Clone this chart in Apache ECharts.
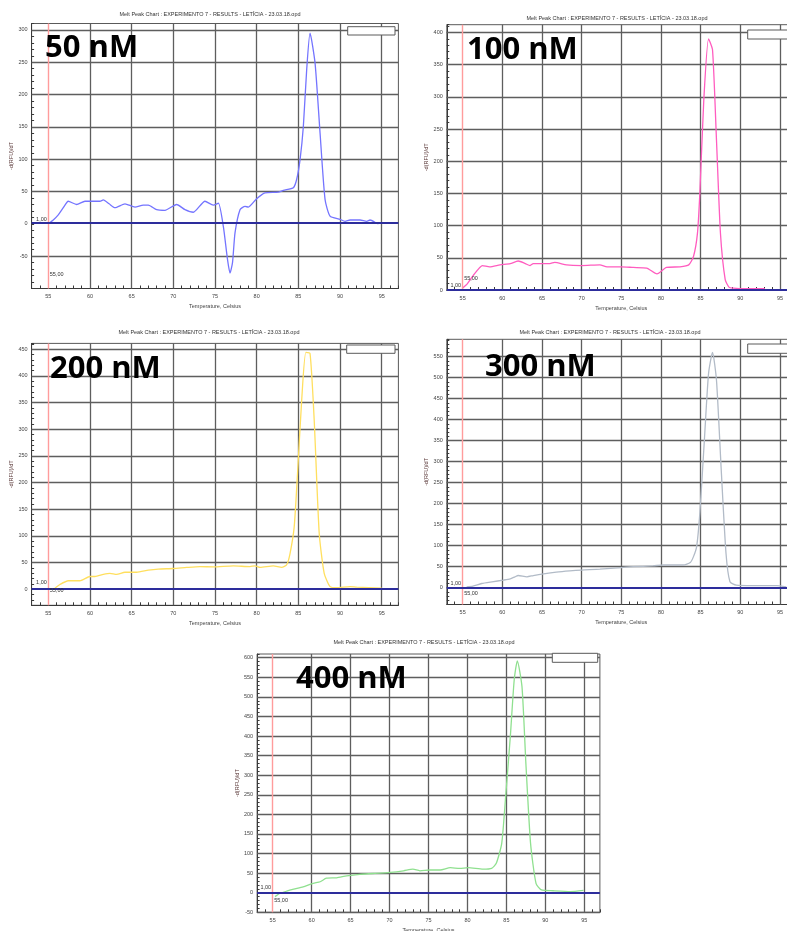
<!DOCTYPE html>
<html>
<head>
<meta charset="utf-8">
<script src="https://cdn.jsdelivr.net/npm/echarts@6/dist/echarts.min.js"></script>
<style>
  html, body { margin: 0; padding: 0; background: #ffffff; }
  #chart { width: 787px; height: 931px; }
</style>
</head>
<body>
<div id="chart"></div>
<script>
// Melt peak curves, -d(RFU)/dT against temperature (°C), one per primer concentration
const temp50  = [55, 55.6, 56.2, 56.8, 57.4, 58.4, 59.4, 60.3, 61.2, 61.6, 62.3, 63, 64.2, 65.4, 66.4, 67, 68, 69, 70.4, 71.4, 72.4, 73.8, 74.8, 75.4, 76, 76.5, 76.8, 77.1, 77.4, 78, 78.6, 79, 80, 81, 82.6, 83.2, 84.4, 84.8, 85.2, 85.6, 86, 86.4, 87, 87.6, 88.2, 88.8, 90, 90.6, 91.2, 92.4, 93.2, 93.6, 94.4, 94.6];
const dfdt50  = [0, 6, 14, 25, 35, 30, 35, 35, 35, 37, 31, 25, 31, 26, 29, 29, 22, 21, 30, 22, 18, 35, 29, 32, -4, -55, -76, -60, -14, 22, 27, 26, 39, 48, 49, 52, 56, 69, 99, 151, 239, 295, 249, 141, 38, 12, 7, 4, 6, 6, 4, 6, 1, 0];

const temp100 = [55, 55.6, 56.3, 57.5, 58.4, 59.7, 61, 62, 62.9, 63.5, 63.9, 65, 66, 66.6, 68.1, 70, 72.3, 73.2, 75, 76.5, 78.2, 79.5, 80.7, 82.4, 83.5, 84.1, 84.6, 84.9, 85.4, 86, 86.5, 87, 87.5, 88.1, 88.6, 89.1, 90.4, 93.1];
const dfdt100 = [3, 10, 22, 38, 36, 39, 41, 45, 41, 38, 41, 41, 41, 43, 39, 38, 39, 36, 36, 35, 34, 25, 35, 36, 39, 52, 88, 150, 295, 390, 373, 233, 88, 16, 4, 3, 2, 2];

const temp200 = [55.8, 56.4, 57.4, 58.8, 60, 60.6, 61.6, 62.4, 63.2, 64.2, 65.6, 67, 68.2, 70, 71.6, 73.2, 74.8, 77.2, 79.2, 79.8, 80.4, 82, 83, 83.6, 84, 84.5, 84.9, 85.4, 85.9, 86.4, 86.9, 87.5, 88.1, 88.8, 89.6, 91.2, 92, 95];
const dfdt200 = [2, 9, 16, 16, 24, 24, 28, 30, 28, 32, 32, 36, 38, 39, 41, 42.5, 42, 44, 42.5, 44, 41, 44, 41, 46, 67, 117, 217, 355, 444, 442, 317, 105, 30, 5, 3, 5, 4, 2];

const temp300 = [55.5, 56.3, 57.4, 58.7, 60.1, 61, 61.6, 62, 63.1, 63.9, 65.2, 66.8, 68.5, 70, 72.3, 75, 76.5, 79, 80.3, 82.8, 83.7, 84.1, 84.5, 84.9, 85.5, 86, 86.5, 87, 87.6, 88.2, 88.7, 89.5, 91.6, 94.6, 95.8];
const dfdt300 = [2, 4, 10, 14, 18, 21, 26, 29, 26, 29, 33, 37, 40, 42, 44, 48, 50, 52, 54, 54, 60, 74, 98, 177, 360, 510, 560, 494, 280, 82, 14, 6, 5, 5, 2];

const temp400 = [55.3, 55.9, 56.8, 57.7, 58.9, 60.2, 61.1, 61.9, 63.2, 64.5, 66.2, 67.9, 70.1, 71.8, 73, 73.9, 75.2, 76.5, 77.8, 79, 80.1, 82, 83.1, 83.7, 84.4, 84.9, 85.5, 86, 86.4, 87, 87.5, 88.1, 88.8, 89.5, 91, 93.2, 94.9];
const dfdt400 = [-10, -2, 4, 9, 15, 24, 28, 37, 38, 43, 47, 49, 52, 56, 60, 56, 58, 58, 64, 62, 64, 60, 62, 75, 126, 245, 398, 543, 592, 526, 330, 126, 24, 7, 5, 3, 6];

// Tick labels
const xTickLabels = [55, 60, 65, 70, 75, 80, 85, 90, 95];
const yTicks50  = [-50, 0, 50, 100, 150, 200, 250, 300];
const yTicks100 = [0, 50, 100, 150, 200, 250, 300, 350, 400];
const yTicks200 = [0, 50, 100, 150, 200, 250, 300, 350, 400, 450];
const yTicks300 = [0, 50, 100, 150, 200, 250, 300, 350, 400, 450, 500, 550];
const yTicks400 = [-50, 0, 50, 100, 150, 200, 250, 300, 350, 400, 450, 500, 550, 600];

// Threshold markers
const startTemp = 55;      // "55,00"
const threshold = 1;       // "1,00"

const chartTitle = 'Melt Peak Chart : EXPERIMENTO 7 - RESULTS - LETÍCIA - 23.03.18.opd';

// Layout and styling of each panel
const panels = [
  { label: '50 nM',  temp: temp50,  val: dfdt50,  yTicks: yTicks50,  color: '#7474ff',
    grid: { left: 31.6, top: 23.5, width: 366.8, height: 265 }, yMin: -100, yMax: 310,
    startLabelY: -79, thrOffset: -4, bigText: [45, 48], titleAt: [210, 14], box: [347.7, 26.7, 47.3, 8.3] },
  { label: '100 nM', temp: temp100, val: dfdt100, yTicks: yTicks100, color: '#ff5cbf',
    grid: { left: 446.8, top: 24.7, width: 349, height: 265.3 }, yMin: 0, yMax: 412,
    startLabelY: 18.6, thrOffset: -4, bigText: [467, 50], titleAt: [617, 18], box: [747.7, 30, 46, 9] },
  { label: '200 nM', temp: temp200, val: dfdt200, yTicks: yTicks200, color: '#ffdf5e',
    grid: { left: 31.6, top: 343.4, width: 366.8, height: 261.9 }, yMin: -30, yMax: 461,
    startLabelY: -1.5, thrOffset: -6, bigText: [50, 369.5], titleAt: [209, 332], box: [346.7, 345, 48.3, 8.3] },
  { label: '300 nM', temp: temp300, val: dfdt300, yTicks: yTicks300, color: '#b2bbc7',
    grid: { left: 446.8, top: 339.3, width: 349, height: 265.2 }, yMin: -40, yMax: 591.4,
    startLabelY: -12.6, thrOffset: -4, bigText: [485, 367.5], titleAt: [610, 332], box: [747.7, 344, 46, 9.3] },
  { label: '400 nM', temp: temp400, val: dfdt400, yTicks: yTicks400, color: '#8fe08f',
    grid: { left: 257.1, top: 654, width: 342.8, height: 258.3 }, yMin: -50, yMax: 609.4,
    startLabelY: -20, thrOffset: -5, bigText: [296, 679], titleAt: [424, 642], box: [552.3, 653.3, 45.4, 9] }
];

const smallFont = '"Liberation Sans", Arial, sans-serif';
const gridColor = '#5e5e5e';
const axisColor = '#3a3a3a';

const pairs = (t, v) => t.map((x, i) => [x, v[i]]);
const isTick = (list, v) => Math.abs(v - Math.round(v)) < 1e-6 && list.includes(Math.round(v));

const grids = [], xAxes = [], yAxes = [], series = [], graphics = [];

panels.forEach((p, i) => {
  grids.push(Object.assign({
    show: true, borderColor: '#5a5a5a', borderWidth: 1, backgroundColor: 'transparent',
    containLabel: false, outerBoundsMode: 'none'
  }, p.grid));

  xAxes.push({
    type: 'value', gridIndex: i, min: 53, max: 97, interval: 1,
    name: 'Temperature, Celsius', nameLocation: 'middle', nameGap: 15,
    nameTextStyle: { fontSize: 5.5, color: '#444', fontFamily: smallFont },
    axisLine: { show: true, onZero: false, lineStyle: { color: axisColor, width: 1 } },
    axisTick: { show: true, inside: true, length: 3, lineStyle: { color: axisColor, width: 1 } },
    axisLabel: { fontSize: 5.5, color: '#444', margin: 5, fontFamily: smallFont,
      formatter: v => isTick(xTickLabels, v) ? String(Math.round(v)) : '' },
    splitLine: { show: false }
  });

  yAxes.push({
    type: 'value', gridIndex: i, min: p.yMin, max: p.yMax, interval: 10,
    name: '-d(RFU)/dT', nameLocation: 'middle', nameGap: 16, nameRotate: 90,
    nameTextStyle: { fontSize: 5.5, color: '#5a3838', fontFamily: smallFont },
    axisLine: { show: true, onZero: false, lineStyle: { color: axisColor, width: 1 } },
    axisTick: { show: true, inside: true, length: 2.5, lineStyle: { color: axisColor, width: 1 } },
    axisLabel: { fontSize: 5.5, color: '#444', margin: 4, fontFamily: smallFont,
      formatter: v => isTick(p.yTicks, v) ? String(Math.round(v)) : '' },
    splitLine: { show: false }
  });

  // Grid lines at the labelled ticks, kept beneath the curve
  const gridLines = xTickLabels.filter(x => x !== startTemp).map(x => ({ xAxis: x }))
    .concat(p.yTicks.filter(y => y !== 0).map(y => ({ yAxis: y })));

  series.push({
    type: 'line', xAxisIndex: i, yAxisIndex: i, data: [], silent: true, z: 1,
    markLine: {
      z: 1, silent: true, animation: false, symbol: ['none', 'none'],
      label: { show: false },
      lineStyle: { type: 'solid', color: gridColor, width: 1.3 },
      data: gridLines
    },
    markPoint: {
      silent: true, animation: false, symbol: 'circle', symbolSize: 1,
      itemStyle: { color: 'rgba(0,0,0,0)' },
      label: { show: true, fontSize: 5.5, color: '#333', fontFamily: smallFont },
      data: [
        { coord: [startTemp, threshold],
          label: { formatter: '1,00', position: 'left', distance: 1, offset: [0, p.thrOffset] } },
        { coord: [startTemp, p.startLabelY],
          label: { formatter: '55,00', position: 'right', distance: 1 } }
      ]
    }
  });

  series.push({
    type: 'line', name: p.label, xAxisIndex: i, yAxisIndex: i,
    data: pairs(p.temp, p.val), showSymbol: false, smooth: 0.2, z: 3,
    lineStyle: { color: p.color, width: 1.3 },
    markLine: {
      z: 5, silent: true, animation: false, symbol: ['none', 'none'],
      label: { show: false },
      data: [
        { xAxis: startTemp, lineStyle: { type: 'solid', color: '#ff9c9c', width: 1.4 } },
        { yAxis: threshold, lineStyle: { type: 'solid', color: '#2d2d9c', width: 2 } }
      ]
    }
  });

  graphics.push({
    type: 'text', x: p.titleAt[0], y: p.titleAt[1], silent: true,
    style: { text: chartTitle, fill: '#333', font: '5.5px ' + smallFont, align: 'center', verticalAlign: 'middle' }
  });
  graphics.push({
    type: 'rect', silent: true, z: 10,
    shape: { x: p.box[0], y: p.box[1], width: p.box[2], height: p.box[3] },
    style: { fill: '#ffffff', stroke: '#5a5a5a', lineWidth: 1 }
  });
  graphics.push({
    type: 'text', x: p.bigText[0], y: p.bigText[1], silent: true, z: 10,
    style: { text: p.label, fill: '#000000', font: 'bold 31px "Open Sans", "Noto Sans", sans-serif',
      align: 'left', verticalAlign: 'middle' }
  });
});

const chart = echarts.init(document.getElementById('chart'), null, { renderer: 'canvas' });
chart.setOption({
  animation: false,
  backgroundColor: '#ffffff',
  grid: grids,
  xAxis: xAxes,
  yAxis: yAxes,
  series: series,
  graphic: graphics
});
</script>
</body>
</html>
